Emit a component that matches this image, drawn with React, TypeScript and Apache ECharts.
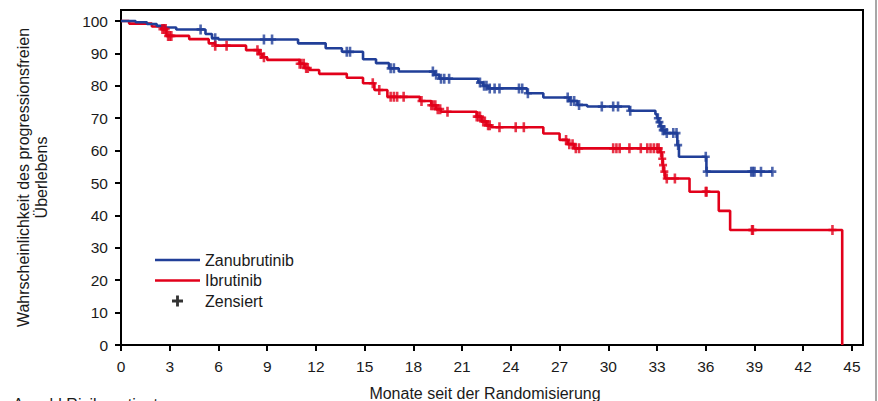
import React, { useEffect, useRef } from "react";
import * as echarts from "echarts";

// Kaplan-Meier step points (months, %)
const zanTimes = [0, 0.9, 1.6, 2.2, 2.7, 3.4, 5.2, 5.6, 6.0, 10.9, 12.6, 13.6, 14.9, 15.7, 16.5, 17.1, 19.3, 19.6, 22.0, 22.3, 22.6, 25.0, 26.0, 27.6, 28.1, 28.7, 31.3, 32.9, 33.0, 33.1, 33.2, 33.3, 33.5, 34.25, 34.35, 36.04, 40.1];
const zanSurv = [100, 99.6, 99.1, 98.5, 98.0, 97.4, 96.0, 94.7, 94.3, 93.1, 91.6, 90.5, 88.2, 87.0, 85.4, 84.4, 83.4, 82.2, 81.0, 80.0, 79.2, 77.7, 76.4, 75.3, 74.1, 73.6, 72.3, 71.2, 70.0, 68.8, 67.5, 66.3, 65.4, 61.7, 58.1, 53.5, 53.5];
const zanCensor = [4.9, 5.8, 8.8, 9.3, 13.9, 14.1, 16.6, 16.8, 19.2, 19.4, 19.7, 19.9, 20.2, 22.1, 22.35, 22.5, 22.7, 23.0, 23.3, 24.5, 24.7, 25.05, 27.5, 27.7, 27.9, 28.2, 29.6, 30.3, 30.6, 31.35, 33.05, 33.15, 33.25, 33.35, 33.45, 33.6, 34.0, 34.2, 34.3, 36.0, 36.06, 38.8, 38.9, 39.0, 39.4, 40.1];

const ibrTimes = [0, 0.5, 1.9, 2.5, 2.8, 4.2, 5.4, 5.8, 7.7, 8.5, 8.7, 9.0, 11.0, 11.3, 11.6, 12.2, 13.9, 14.9, 15.6, 16.4, 18.4, 19.1, 19.4, 19.7, 21.9, 22.2, 22.5, 22.8, 26.0, 27.0, 27.5, 27.9, 33.2, 33.3, 33.35, 33.4, 33.5, 35.0, 36.8, 37.5, 44.4];
const ibrSurv = [100, 99.2, 98.3, 97.5, 95.4, 94.4, 93.1, 92.4, 91.0, 89.8, 88.8, 88.0, 86.8, 85.5, 84.9, 83.7, 82.5, 80.8, 78.7, 76.6, 75.3, 74.0, 72.8, 72.0, 70.5, 69.0, 67.8, 67.2, 65.3, 63.3, 62.0, 60.7, 59.5, 57.5, 55.5, 53.5, 51.4, 47.3, 41.4, 35.5, 0];
const ibrCensor = [2.55, 2.65, 2.75, 2.9, 3.0, 3.1, 5.8, 6.5, 8.4, 8.6, 8.8, 11.0, 11.1, 11.25, 11.4, 11.5, 15.5, 15.9, 16.6, 16.8, 17.0, 17.4, 18.5, 19.1, 19.2, 19.35, 19.5, 19.65, 20.1, 21.9, 22.0, 22.1, 22.3, 22.4, 22.6, 22.7, 23.3, 24.3, 24.8, 27.4, 27.6, 27.8, 28.0, 28.2, 30.3, 30.5, 30.7, 31.3, 32.0, 32.4, 32.6, 32.8, 33.0, 33.1, 33.25, 33.32, 33.37, 33.45, 33.6, 34.1, 36.0, 36.05, 38.85, 38.9, 43.8];

const xTicks = [0, 3, 6, 9, 12, 15, 18, 21, 24, 27, 30, 33, 36, 39, 42, 45];
const yTicks = [0, 10, 20, 30, 40, 50, 60, 70, 80, 90, 100];

const seriesNames = ["Zanubrutinib", "Ibrutinib", "Zensiert"];

const BLUE = "#213f98";
const RED = "#e2001a";
const FONT = "'Liberation Sans', Arial, sans-serif";
const PLUS = "path://M2.7,0H5.3V3.3H8V5.7H5.3V9H2.7V5.7H0V3.3H2.7Z";
const PLUS_SQ = "path://M3.7,0H6.3V3.7H10V6.3H6.3V10H3.7V6.3H0V3.7H3.7Z";
const LINE_ICON = "path://M0,0H45V2.5H0Z";

function survAt(times: number[], vals: number[], t: number): number {
  let v = vals[0];
  for (let i = 0; i < times.length; i++) {
    if (times[i] <= t) v = vals[i];
  }
  return v;
}

export default function App() {
  const ref = useRef<HTMLDivElement>(null);
  useEffect(() => {
    document.body.style.margin = "0";
    const chart = echarts.init(ref.current!, null, { renderer: "svg" });
    const zanLine = zanTimes.map((t, i) => [t, zanSurv[i]]);
    const ibrLine = ibrTimes.map((t, i) => [t, ibrSurv[i]]);
    const zanC = zanCensor.map((t) => [t, survAt(zanTimes, zanSurv, t)]);
    const ibrC = ibrCensor.map((t) => [t, survAt(ibrTimes, ibrSurv, t)]);
    const labelStyle = { color: "#1a1a1a", fontSize: 15.5, fontFamily: FONT };
    chart.setOption({
      animation: false,
      grid: {
        left: 121,
        right: 15,
        top: 10,
        bottom: 56,
        show: true,
        borderColor: "#000",
        borderWidth: 2,
        outerBoundsMode: "none",
        containLabel: false,
      },
      legend: {
        data: [
          { name: seriesNames[0], icon: LINE_ICON, itemStyle: { color: BLUE } },
          { name: seriesNames[1], icon: LINE_ICON, itemStyle: { color: RED } },
          { name: seriesNames[2], icon: PLUS_SQ },
        ],
        orient: "vertical",
        left: 150,
        top: 247,
        itemWidth: 45,
        itemHeight: 11,
        itemGap: 4.5,
        textStyle: { fontSize: 16, fontFamily: FONT, color: "#1a1a1a" },
      },
      xAxis: {
        type: "value",
        min: 0,
        max: 45.68,
        interval: 3,
        splitLine: { show: false },
        axisLine: { show: true, onZero: false, lineStyle: { color: "#000", width: 2 } },
        axisTick: { show: true, length: 6, lineStyle: { color: "#000", width: 2 }, customValues: xTicks },
        axisLabel: { ...labelStyle, margin: 13, customValues: xTicks },
        name: "Monate seit der Randomisierung",
        nameLocation: "middle",
        nameGap: 40,
        nameTextStyle: { fontSize: 16, fontFamily: FONT, color: "#1a1a1a", padding: [0, 14, 0, 0] },
      },
      yAxis: {
        type: "value",
        min: 0,
        max: 103.4,
        interval: 10,
        splitLine: { show: false },
        axisLine: { show: true, onZero: false, lineStyle: { color: "#000", width: 2 } },
        axisTick: { show: true, length: 6, lineStyle: { color: "#000", width: 2 }, customValues: yTicks },
        axisLabel: { ...labelStyle, margin: 13, customValues: yTicks },
        name: "Wahrscheinlichkeit des progressionsfreien\nÜberlebens",
        nameLocation: "middle",
        nameGap: 71,
        nameTextStyle: { fontSize: 16, fontFamily: FONT, color: "#1a1a1a", lineHeight: 18 },
      },
      series: [
        {
          name: seriesNames[0],
          type: "line",
          step: "end",
          symbol: "none",
          data: zanLine,
          color: BLUE,
          lineStyle: { color: BLUE, width: 2.6 },
          z: 3,
        },
        {
          name: seriesNames[1],
          type: "line",
          step: "end",
          symbol: "none",
          data: ibrLine,
          color: RED,
          lineStyle: { color: RED, width: 2.6 },
          z: 2,
        },
        {
          name: "zanC",
          type: "scatter",
          symbol: PLUS,
          symbolSize: [8, 10],
          data: zanC,
          itemStyle: { color: BLUE },
          z: 4,
        },
        {
          name: "ibrC",
          type: "scatter",
          symbol: PLUS,
          symbolSize: [8, 10],
          data: ibrC,
          itemStyle: { color: RED },
          z: 4,
        },
        {
          name: seriesNames[2],
          type: "scatter",
          symbol: PLUS_SQ,
          data: [],
          itemStyle: { color: "#000" },
        },
      ],
      graphic: [
        {
          type: "line",
          shape: { x1: 876, y1: 0, x2: 876, y2: 401 },
          style: { stroke: "#8a8a8a", lineWidth: 1.5 },
        },
        {
          type: "text",
          left: 13,
          top: 396,
          style: { text: "Anzahl Risikopatienten", fontSize: 16, fontFamily: FONT, fill: "#1a1a1a" },
        },
      ],
    });
    return () => chart.dispose();
  }, []);
  return <div ref={ref} style={{ width: 878, height: 401 }} />;
}
